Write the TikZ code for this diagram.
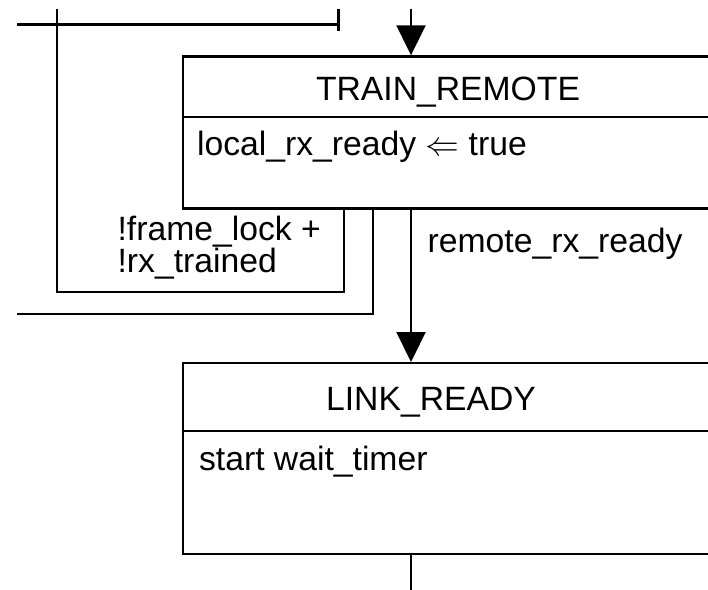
\RequirePackage{fix-cm}
\documentclass[tikz,border=0pt]{standalone}
\usepackage{fontspec}
\setmainfont{Liberation Sans}
\usetikzlibrary{arrows.meta}
\begin{document}
\begin{tikzpicture}[x=1pt, y=-1pt, line width=2.2pt,
  statebox/.style={draw, rectangle, anchor=north west, inner sep=0pt, minimum width=560pt},
  txt/.style={font=\fontsize{33.7}{40}\selectfont, inner sep=0pt},
  title/.style={txt, anchor=base},
  body/.style={txt, anchor=base west},
  flow/.style={-{Triangle[length=30pt, width=29pt]}},
  wire/.style={line cap=rect}]
  \useasboundingbox (0,0) rectangle (708,589);
  \clip (0,0) rectangle (708,589);

  % state boxes (open to the right)
  \node[statebox, minimum height=152pt] (tr) at (181.5,55.3) {};
  \node[statebox, minimum height=191pt] (lr) at (181.5,362) {};
  \draw (tr.west |- 0,117.3) -- (tr.east |- 0,117.3);
  \draw (lr.west |- 0,430.7) -- (lr.east |- 0,430.7);

  \node[title] (trname) at (448,100) {TRAIN\_REMOTE};
  \node[body]  (trbody) at (196,155) {local\_rx\_ready $\Leftarrow$ true};
  \node[title] (lrname) at (431,410) {LINK\_READY};
  \node[body]  (lrbody) at (198,470) {start wait\_timer};

  % transition labels
  \node[body] (cond1) at (116.5,240) {!frame\_lock +};
  \node[body] (cond2) at (116.5,272.5) {!rx\_trained};
  \node[body] (cond3) at (426.6,252) {remote\_rx\_ready};

  % loose ends of the wiring
  \coordinate (intop)  at (411,9.3);
  \coordinate (looptop) at (57,9.3);
  \coordinate (busl)   at (17.3,24.5);
  \coordinate (busr)   at (338.5,24.5);
  \coordinate (exitl)  at (17.3,314);
  \coordinate (outbot) at (411,600);

  % incoming transition
  \draw[flow] (intop) -- (intop |- tr.north);
  % bus to the left with end bar
  \draw (busl) -- (busr);
  \draw (busr |- 0,9.3) -- (busr |- 0,30.7);
  % !frame_lock + !rx_trained loop
  \draw (tr.south -| 344,0) -- (344,292.3) -- (57,292.3) -- (looptop);
  % exit to the left
  \draw (tr.south -| 373.3,0) -- (373.3,314) -- (exitl);
  % remote_rx_ready
  \draw[flow] (tr.south -| 411,0) -- (lr.north -| 411,0);
  % outgoing transition
  \draw (lr.south -| 411,0) -- (outbot);
\end{tikzpicture}
\end{document}
